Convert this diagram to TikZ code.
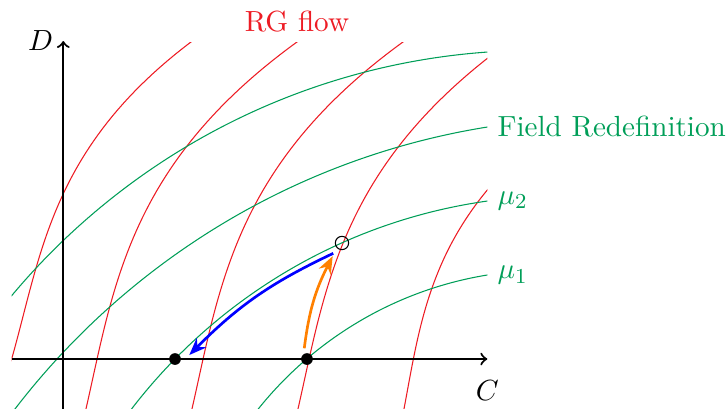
\documentclass[tikz,border=0pt,11pt]{standalone}
\usepackage{amsmath}
\usepackage{xcolor}
\usepackage{tikz}
\usetikzlibrary{arrows.meta}
\definecolor{rgred}{RGB}{237,28,36}
\definecolor{fdgreen}{RGB}{0,158,88}

\begin{document}
\begin{tikzpicture}[x=0.7cm, y=0.7cm,
  flow/.style={rgred, domain=-1.2:6.4, samples=60, variable=\t},
  fdline/.style={fdgreen},
  axis/.style={thick, ->},
  dot/.style={circle, fill, inner sep=0pt, minimum size=4.4pt},
  fixpt/.style={circle, draw, inner sep=0pt, minimum size=5pt},
  move/.style={line width=1pt, -{Stealth[length=6.5pt, width=5pt]}},
  >=to]
  \useasboundingbox (-1.194,-0.943) rectangle (12.504,6.774);
  % curves, cut to the plot window
  \begin{scope}
    \clip (-0.974,-1) rectangle (8.0,5.98);
    % RG flow lines
    \draw[flow, domain=-0.3:6.4] plot
      ({-0.974+0.28344*\t-0.03196*\t*\t+0.013233*\t*\t*\t}, \t);
    \foreach \s in {0,2,4}
      \draw[flow, shift={(\s,0)}] plot
        ({0.637+0.22374*\t+0.011175*\t*\t+0.0095068*\t*\t*\t}, \t);
    \draw[flow, domain=-1.2:3.6] plot
      ({6.605+0.19964*\t+0.02692*\t*\t+0.014947*\t*\t*\t}, \t);
    % field redefinitions
    \draw[fdline] (8.935,-7.092) circle[radius=12.917];
    \draw[fdline] (10.238,-9.5) circle[radius=14.054];
    \draw[fdline] (9.45,-7.205) circle[radius=10.287];
    \draw[fdline] (9.13,-5.307) circle[radius=6.983];
  \end{scope}
  % axes
  \coordinate (xs) at (-0.974,0);
  \coordinate (xe) at (8,0);
  \coordinate (ys) at (0,-0.943);
  \coordinate (ye) at (0,6);
  \draw[axis] (xs) -- (xe);
  \draw[axis] (ys) -- (ye);
  \node[left] (Dlab) at (ye) {$D$};
  \node (Clab) at (8,-0.6) {$C$};
  % labels
  \node[above, text=rgred] (rglab) at (4.409,5.98) {RG flow};
  \node[right, text=fdgreen] (fdlab) at (8.0,4.377) {Field Redefinition};
  \node[right, text=fdgreen] (mutwo) at (8.0,2.981) {$\mu_2$};
  \node[right, text=fdgreen] (muone) at (8.0,1.58) {$\mu_1$};
  % points and moves
  \node[dot] (pa) at (2.108,0) {};
  \node[dot] (pb) at (4.598,0) {};
  \node[fixpt] (fx) at (5.258,2.189) {};
  \coordinate (ob) at (4.547,0.202);
  \coordinate (ot) at (5.083,1.94);
  \coordinate (bs) at (5.094,1.994);
  \coordinate (be) at (2.377,0.075);
  \draw[move, blue] (bs) to[bend right=10] (be);
  \draw[move, orange] (ob) to[bend left=10] (ot);
\end{tikzpicture}
\end{document}
